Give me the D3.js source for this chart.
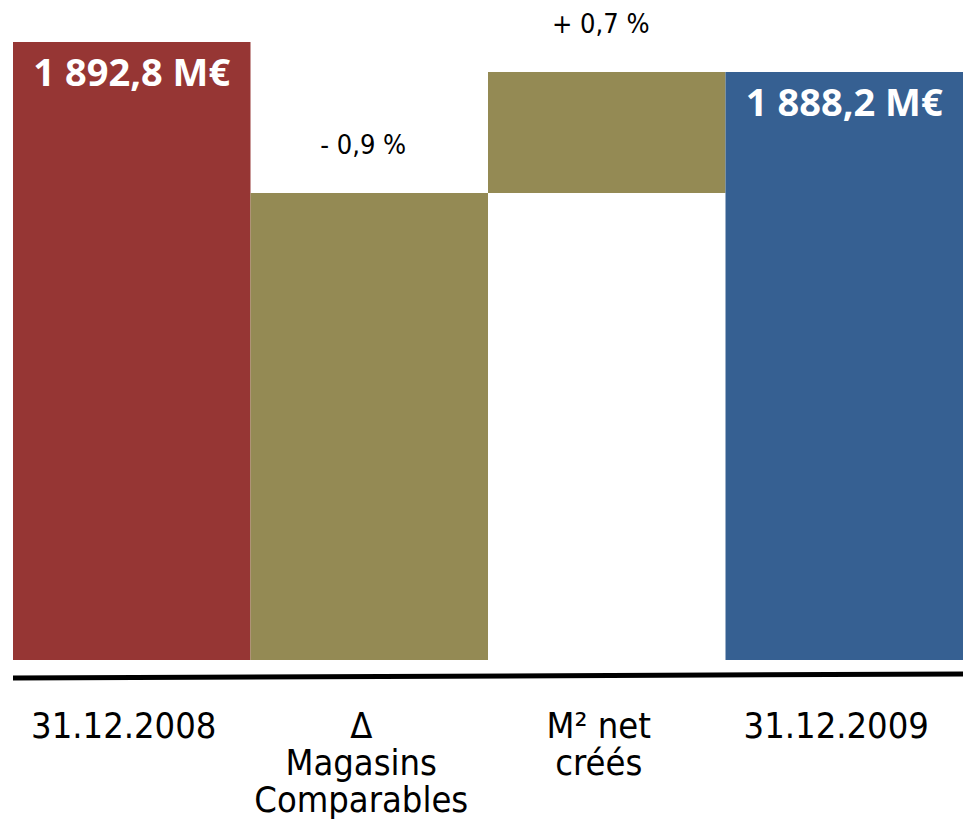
<!DOCTYPE html>
<html>
<head>
<meta charset="utf-8">
<script src="https://cdn.jsdelivr.net/npm/d3@7"></script>
<style>
  body { margin: 0; background: #fff; }
  .cat { font-family: 'DejaVu Sans Condensed', 'DejaVu Sans', sans-serif; font-stretch: condensed; font-size: 36px; fill: #000; }
  .pct { font-family: 'DejaVu Sans Condensed', 'DejaVu Sans', sans-serif; font-stretch: condensed; font-size: 27px; fill: #000; }
  .val { font-family: 'Open Sans', sans-serif; font-weight: bold; font-size: 38px; fill: #fff; }
</style>
</head>
<body>
<svg width="963" height="822"></svg>
<script>

// Data
var categories = ["31.12.2008", "Magasins", "M2", "31.12.2009"];
var categoryLines = [["31.12.2008"], ["\u0394", "Magasins", "Comparables"], ["M\u00b2 net", "cr\u00e9\u00e9s"], ["31.12.2009"]];
var barLow  = [0, 0, 1875.8, 0];
var barHigh = [1892.8, 1875.8, 1888.2, 1888.2];
var valueLabels = ["1 892,8 M\u20ac", "", "", "1 888,2 M\u20ac"];
var pctLabels = ["", "- 0,9 %", "+ 0,7 %", ""];
var colors = ["#963634", "#948a54", "#948a54", "#366092"];

var svg = d3.select("svg"),
    width = +svg.attr("width"),
    height = +svg.attr("height");

var x = d3.scaleBand()
    .domain(categories)
    .range([13, 963])
    .padding(0);

// broken (non proportional) value axis, as in the original slide
var y = d3.scaleLinear()
    .domain([0, 1875.8, 1888.2, 1892.8])
    .range([660, 193, 72, 42]);

var bars = categories.map(function (c, i) {
    return { cat: c, low: barLow[i], high: barHigh[i], val: valueLabels[i], pct: pctLabels[i], color: colors[i], lines: categoryLines[i] };
});

svg.append("g")
    .selectAll("rect")
    .data(bars)
    .enter()
    .append("rect")
    .attr("x", function (d) { return x(d.cat); })
    .attr("width", x.bandwidth())
    .attr("y", function (d) { return y(d.high); })
    .attr("height", function (d) { return y(d.low) - y(d.high); })
    .attr("fill", function (d) { return d.color; });

// value labels inside the total bars
svg.append("g")
    .selectAll("text")
    .data(bars.filter(function (d) { return d.val; }))
    .enter()
    .append("text")
    .attr("class", "val")
    .attr("text-anchor", "middle")
    .attr("x", function (d) { return x(d.cat) + x.bandwidth() / 2; })
    .attr("y", function (d) { return y(d.high) + 44; })
    .text(function (d) { return d.val; });

// percentage labels above the variation bars
svg.append("g")
    .selectAll("text")
    .data(bars.filter(function (d) { return d.pct; }))
    .enter()
    .append("text")
    .attr("class", "pct")
    .attr("text-anchor", "middle")
    .attr("x", function (d) { return x(d.cat) + x.bandwidth() / 2 - 6; })
    .attr("y", function (d) { return y(d.high) - 39; })
    .text(function (d) { return d.pct; });

// base line
svg.append("line")
    .attr("x1", x.range()[0])
    .attr("x2", x.range()[1])
    .attr("y1", 678)
    .attr("y2", 674)
    .attr("stroke", "#000")
    .attr("stroke-width", 5);

// category labels
var cat = svg.append("g")
    .selectAll("text")
    .data(bars)
    .enter()
    .append("text")
    .attr("class", "cat")
    .attr("text-anchor", "middle")
    .attr("x", function (d) { return x(d.cat) + x.bandwidth() / 2 - 8; })
    .attr("y", 738);

cat.selectAll("tspan")
    .data(function (d) { return d.lines.map(function (l) { return { t: l, x: x(d.cat) + x.bandwidth() / 2 - 8 }; }); })
    .enter()
    .append("tspan")
    .attr("x", function (d) { return d.x; })
    .attr("dy", function (d, i) { return i === 0 ? 0 : 37; })
    .text(function (d) { return d.t; });

</script>
</body>
</html>
